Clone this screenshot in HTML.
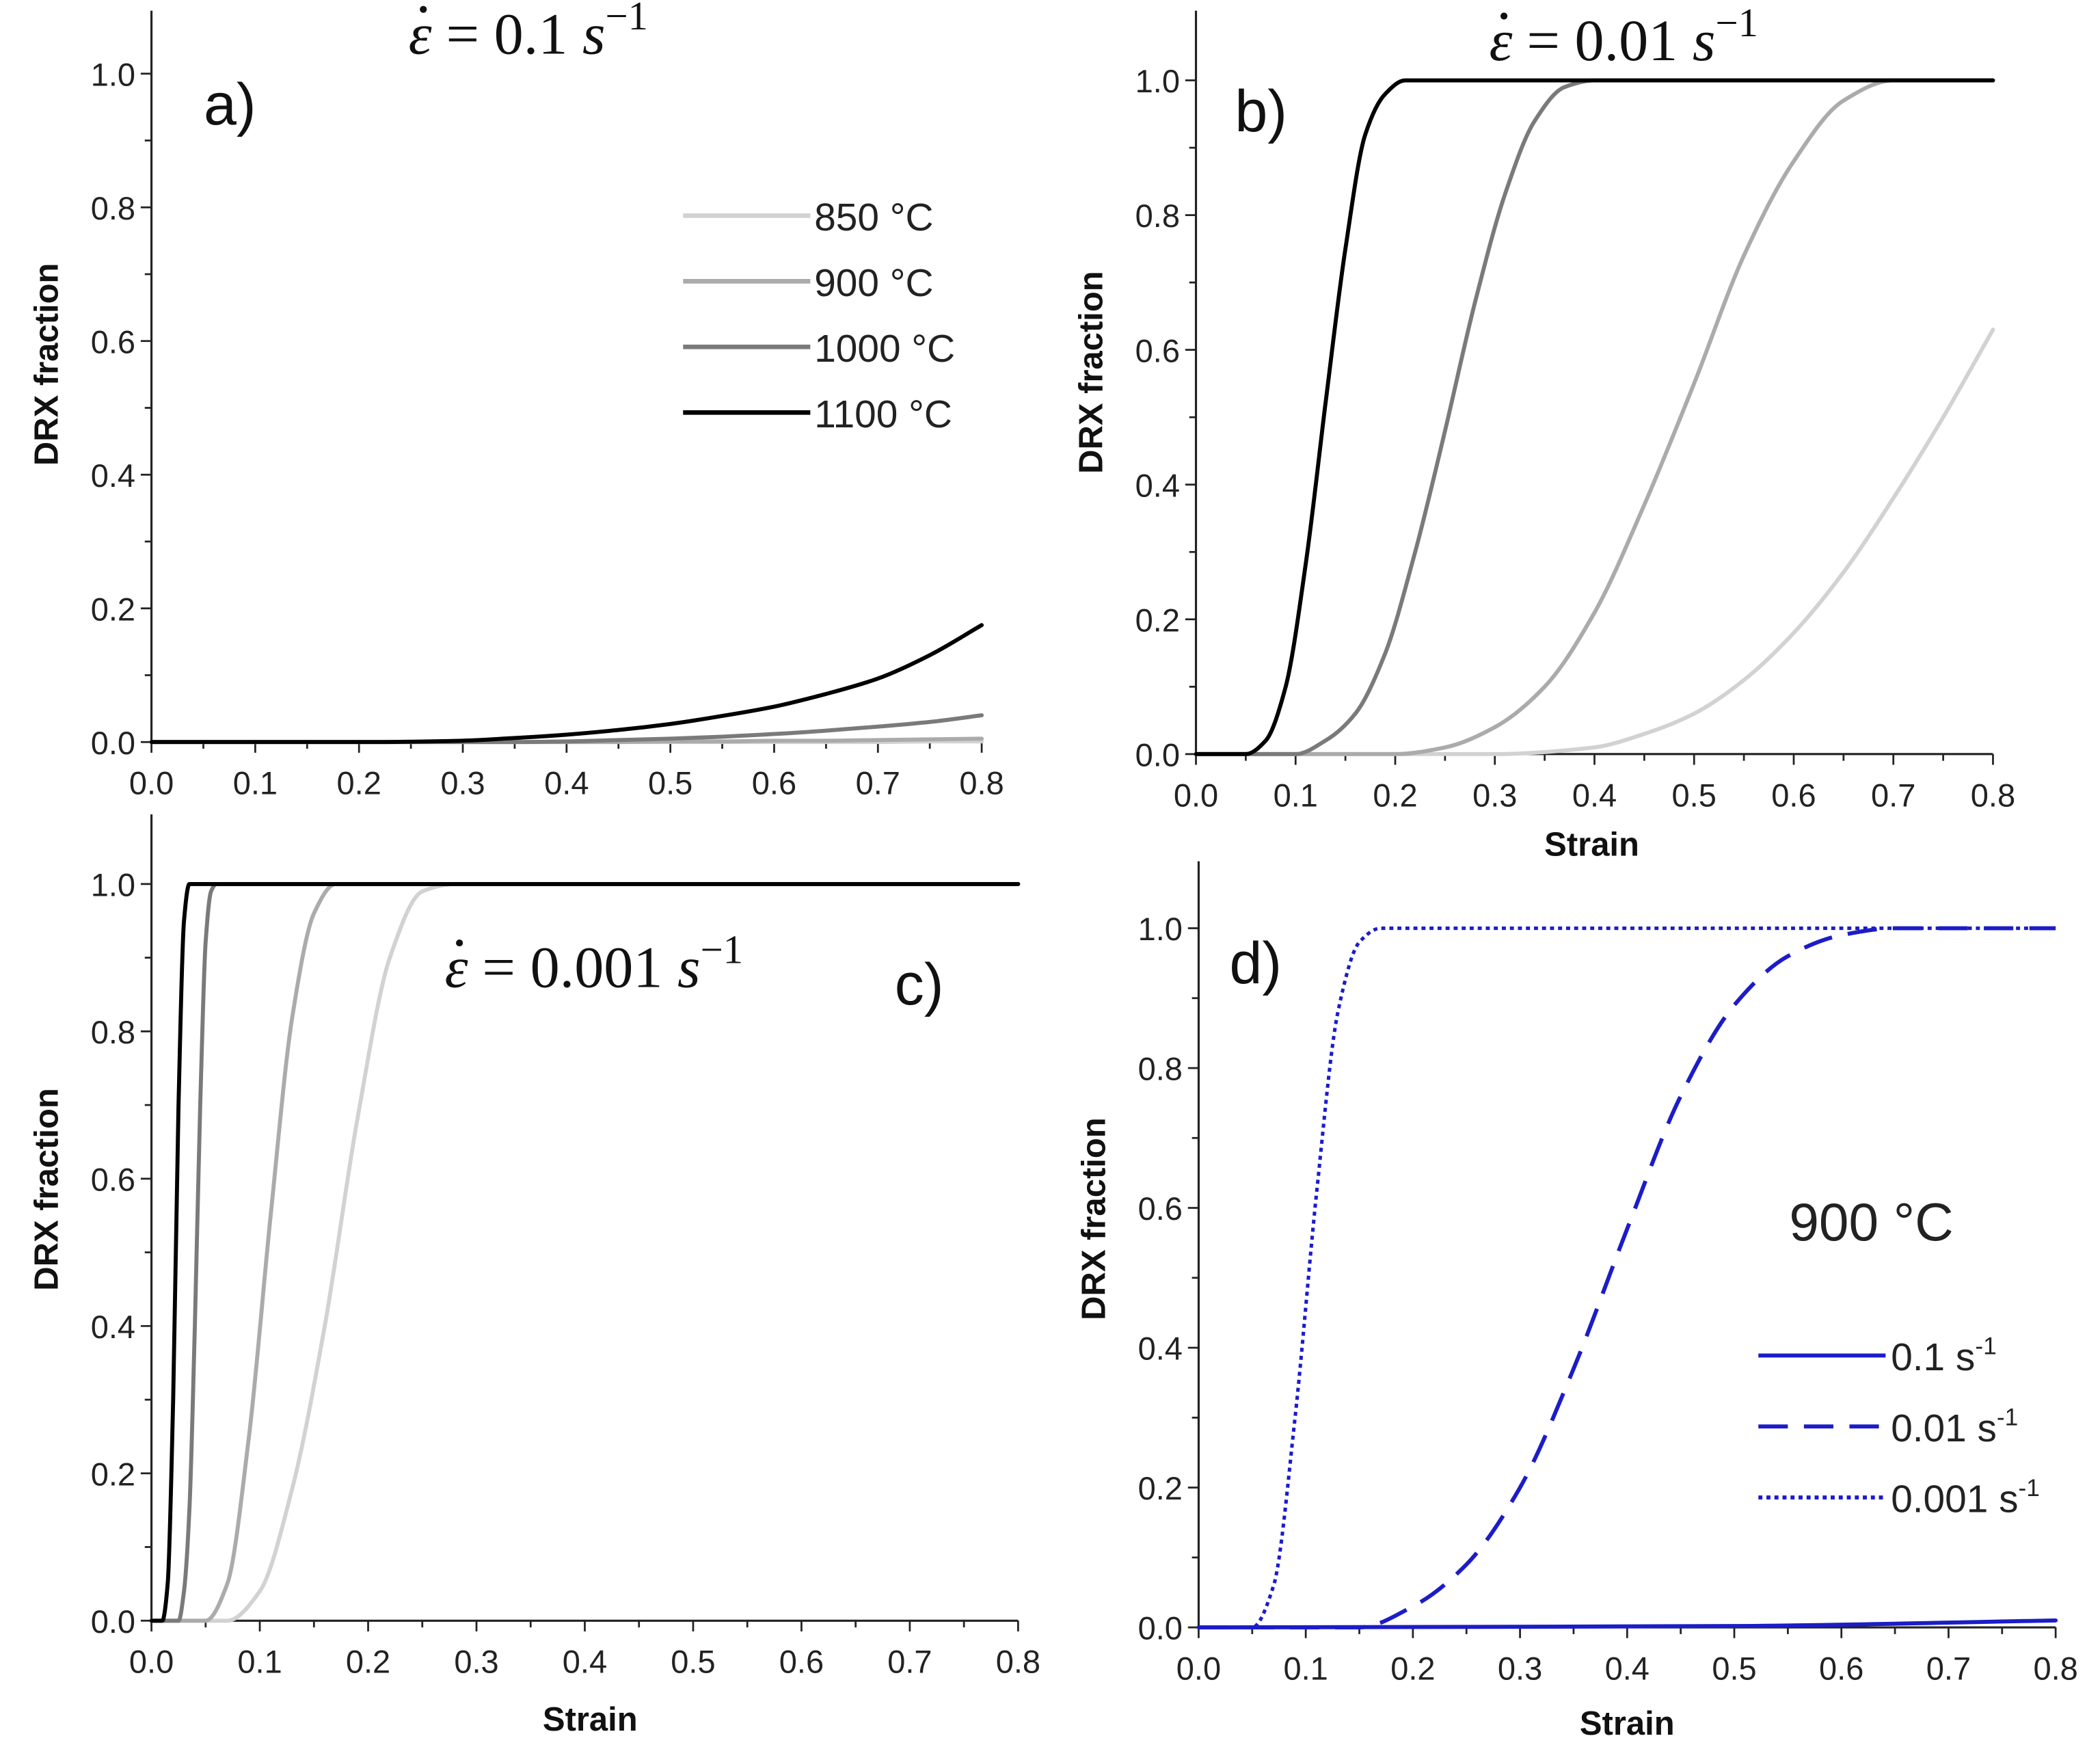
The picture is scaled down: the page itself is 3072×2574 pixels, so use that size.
<!DOCTYPE html>
<html><head><meta charset="utf-8"><style>
html,body{margin:0;padding:0;background:#fff}
svg{display:block}
text{font-family:"Liberation Sans",sans-serif;fill:#222}
.tk{font-size:24px}
.al{font-size:25px;font-weight:bold;fill:#111}
.ttl{font-family:"Liberation Serif",serif;font-size:44px;fill:#111}
.pl{font-size:44px;fill:#111}
.lg{font-size:29px;fill:#222}
</style></head><body>
<svg id="fig" width="3072" height="2574" viewBox="0 0 1568 1314" xmlns="http://www.w3.org/2000/svg"></svg>
<script>
// ---- data ----
const yTicks=["0.0","0.2","0.4","0.6","0.8","1.0"];
const yTickVals=[0,0.2,0.4,0.6,0.8,1.0];
const xTicks=["0.0","0.1","0.2","0.3","0.4","0.5","0.6","0.7","0.8"];
const xTickVals=[0,0.1,0.2,0.3,0.4,0.5,0.6,0.7,0.8];
const tempLabels=["850 °C","900 °C","1000 °C","1100 °C"];
// panel a (0.1 s^-1)
const aX=[0,0.1,0.2,0.3,0.35,0.4,0.45,0.5,0.55,0.6,0.65,0.7,0.75,0.8];
const a850=[0,0,0,0,0,0,0,0,0,0,0,0,0.001,0.001];
const a900=[0,0,0,0,0,0,0,0.001,0.001,0.002,0.002,0.003,0.004,0.005];
const a1000=[0,0,0,0,0,0.001,0.003,0.005,0.008,0.012,0.017,0.023,0.03,0.04];
const a1100=[0,0,0,0.002,0.006,0.011,0.018,0.027,0.039,0.053,0.072,0.095,0.13,0.175];
// panel b (0.01 s^-1)
const b850X=[0,0.3,0.4,0.45,0.5,0.55,0.6,0.65,0.7,0.75,0.8];
const b850Y=[0,0,0.01,0.03,0.06,0.11,0.18,0.27,0.38,0.5,0.63];
const b900X=[0,0.2,0.25,0.3,0.35,0.4,0.45,0.5,0.55,0.6,0.65,0.7,0.8];
const b900Y=[0,0,0.01,0.04,0.1,0.21,0.37,0.55,0.74,0.88,0.97,1,1];
const b1000X=[0,0.1,0.13,0.16,0.19,0.22,0.25,0.28,0.31,0.34,0.37,0.4,0.8];
const b1000Y=[0,0,0.02,0.06,0.15,0.3,0.48,0.67,0.83,0.94,0.99,1,1];
const b1100X=[0,0.05,0.07,0.09,0.11,0.13,0.15,0.17,0.19,0.21,0.23,0.8];
const b1100Y=[0,0,0.02,0.1,0.28,0.52,0.75,0.92,0.98,1,1,1];
// panel c (0.001 s^-1)
const c850X=[0,0.07,0.1,0.13,0.16,0.19,0.22,0.25,0.28,0.8];
const c850Y=[0,0,0.04,0.18,0.4,0.68,0.9,0.99,1,1];
const c900X=[0,0.05,0.07,0.09,0.11,0.13,0.15,0.17,0.19,0.8];
const c900Y=[0,0,0.05,0.25,0.55,0.82,0.96,1,1,1];
const c1000X=[0,0.025,0.03,0.035,0.04,0.045,0.05,0.055,0.06,0.8];
const c1000Y=[0,0,0.04,0.15,0.4,0.7,0.92,0.99,1,1];
const c1100X=[0,0.01,0.015,0.02,0.025,0.03,0.035,0.04,0.8];
const c1100Y=[0,0,0.05,0.3,0.7,0.95,1,1,1];
// panel d (900 °C)
const rateLabels=["0.1","0.01","0.001"];
const d01X=[0,0.5,0.8];
const d01Y=[0,0.002,0.01];
const d001X=[0,0.15,0.2,0.25,0.3,0.35,0.4,0.45,0.5,0.55,0.6,0.65,0.8];
const d001Y=[0,0,0.03,0.09,0.2,0.37,0.57,0.76,0.89,0.96,0.99,1,1];
const d0001X=[0,0.05,0.07,0.09,0.11,0.13,0.15,0.17,0.19,0.8];
const d0001Y=[0,0,0.06,0.3,0.62,0.88,0.98,1,1,1];

const NS="http://www.w3.org/2000/svg";
const svg=document.getElementById('fig');
function el(tag,attrs,parent,txt){const e=document.createElementNS(NS,tag);for(const k in attrs)e.setAttribute(k,attrs[k]);if(txt!==undefined)e.textContent=txt;(parent||svg).appendChild(e);return e;}

// monotone cubic (Fritsch-Carlson) path in screen coords (x increasing)
function monoPath(pts){
  const n=pts.length;
  const dx=[],m=[];
  for(let i=0;i<n-1;i++){dx.push(pts[i+1][0]-pts[i][0]);m.push((pts[i+1][1]-pts[i][1])/dx[i]);}
  const t=new Array(n);
  t[0]=m[0];t[n-1]=m[n-2];
  for(let i=1;i<n-1;i++){
    if(m[i-1]*m[i]<=0)t[i]=0;
    else{const w1=2*dx[i]+dx[i-1],w2=dx[i]+2*dx[i-1];t[i]=(w1+w2)/(w1/m[i-1]+w2/m[i]);}
  }
  if(m[0]===0)t[0]=0; if(m[n-2]===0)t[n-1]=0;
  let d='M'+pts[0][0].toFixed(1)+','+pts[0][1].toFixed(1);
  for(let i=0;i<n-1;i++){
    const h=dx[i]/3;
    d+=' C'+(pts[i][0]+h).toFixed(1)+','+(pts[i][1]+t[i]*h).toFixed(1)+' '+(pts[i+1][0]-h).toFixed(1)+','+(pts[i+1][1]-t[i+1]*h).toFixed(1)+' '+pts[i+1][0].toFixed(1)+','+pts[i+1][1].toFixed(1);
  }
  return d;
}

function panel(id,P){
  const g=el('g',{});
  
  
  const sx=v=>P.x0+v*P.xs, sy=v=>P.y0-v*P.ys;
  const ya=el('line',{x1:P.x0,y1:P.top,x2:P.x0,y2:P.y0,stroke:'#222','stroke-width':1.6},g);
  
  const xa=el('line',{x1:P.x0,y1:P.y0,x2:sx(0.8),y2:P.y0,stroke:'#222','stroke-width':1.6},g);
  
  for(let i=0;i<=10;i++){const v=i*0.1;const L=i%2==0?8:5;el('line',{x1:P.x0-L,y1:sy(v),x2:P.x0,y2:sy(v),stroke:'#222','stroke-width':1.4},g);}
  for(let i=0;i<=16;i++){const v=i*0.05;const L=i%2==0?8:5;el('line',{x1:sx(v),y1:P.y0,x2:sx(v),y2:P.y0+L,stroke:'#222','stroke-width':1.4},g);}
  yTickVals.forEach((v,i)=>{const t=el('text',{class:'tk',x:P.x0-12,y:sy(v)+9,'text-anchor':'end'},g,yTicks[i]);});
  xTickVals.forEach((v,i)=>{const t=el('text',{class:'tk',x:sx(v),y:P.y0+39,'text-anchor':'middle'},g,xTicks[i]);});
  const yt=el('text',{class:'al',transform:`translate(${P.x0-70},${P.ylab}) rotate(-90)`,'text-anchor':'middle'},g,'DRX fraction');
  
  if(P.strain){const xt=el('text',{class:'al',x:sx(0.4)+P.sOff,y:P.y0+P.sDy,'text-anchor':'middle'},g,'Strain');}
  P.series.forEach(s=>{
    const pts=s.x.map((xv,i)=>[sx(xv),sy(s.y[i])]);
    const p=el('path',{d:monoPath(pts),fill:'none',stroke:s.c,'stroke-width':s.w||3,'stroke-linejoin':'round','stroke-linecap':s.dash?'butt':'round'},g);
    if(s.dash)p.setAttribute('stroke-dasharray',s.dash);
    
  });
  return g;
}
const gc=['#d2d2d2','#ababab','#7a7a7a','#000'];
panel('a',{x0:113,y0:554,ys:499,xs:775,top:8,ylab:272,strain:false,series:[
  {x:aX,y:a850,c:gc[0],n:'850c'},{x:aX,y:a900,c:gc[1],n:'900c'},{x:aX,y:a1000,c:gc[2],n:'1000c'},{x:aX,y:a1100,c:gc[3],n:'1100c'}]});
panel('b',{x0:893,y0:563,ys:503,xs:744,top:8,ylab:278,strain:true,sOff:-2,sDy:76,series:[
  {x:b850X,y:b850Y,c:gc[0],n:'850c'},{x:b900X,y:b900Y,c:gc[1],n:'900c'},{x:b1000X,y:b1000Y,c:gc[2],n:'1000c'},{x:b1100X,y:b1100Y,c:gc[3],n:'1100c'}]});
panel('c',{x0:113,y0:1210,ys:550,xs:809,top:608,ylab:888,strain:true,sOff:4,sDy:82,series:[
  {x:c850X,y:c850Y,c:gc[0],n:'850c'},{x:c900X,y:c900Y,c:gc[1],n:'900c'},{x:c1000X,y:c1000Y,c:gc[2],n:'1000c'},{x:c1100X,y:c1100Y,c:gc[3],n:'1100c'}]});
const blue='#1c1cc8';
panel('d',{x0:895,y0:1215,ys:522,xs:800,top:643,ylab:910,strain:true,sOff:0,sDy:80,series:[
  {x:d01X,y:d01Y,c:blue,n:'rate-0.1'},{x:d001X,y:d001Y,c:blue,n:'rate-0.01',dash:'22 12'},{x:d0001X,y:d0001Y,c:blue,n:'rate-0.001',dash:'3 3',w:2.6}]});

// titles & panel letters
function title(x,y,val,name){
  const g=el('g',{});
  
  el('text',{class:'ttl',x:x,y:y,'font-style':'italic'},g,'ε');
  el('circle',{cx:x+11,cy:y-33,r:2.6,fill:'#111'},g);
  const t=el('text',{class:'ttl',x:x+28,y:y},g,'= '+val+' ');
  el('tspan',{'font-style':'italic'},t,'s');
  el('tspan',{dy:-18,'font-size':'30px'},t,'−1');
}
title(305,40,'0.1','title-a');
title(1112,45,'0.01','title-b');
title(332,737,'0.001','title-c');
[['a)',152,93],['b)',922,98],['c)',668,750],['d)',918,734]].forEach(p=>{const t=el('text',{class:'pl',x:p[1],y:p[2]},svg,p[0]);});

// legend a
const lgA=el('g',{});

tempLabels.forEach((lb,i)=>{const y=161+i*49;
  const ln=el('line',{x1:510,y1:y,x2:605,y2:y,stroke:gc[i],'stroke-width':3.4},lgA);
  
  const t=el('text',{class:'lg',x:608,y:y+11},lgA,lb);
  });
// panel d annotation and legend
const ann=el('text',{x:1336,y:926,'font-size':'40px',fill:'#111'},svg,'900 °C');

const lgD=el('g',{});

const dashes=[null,'22 12','3 3'];
rateLabels.forEach((lb,i)=>{const y=1012+i*53;
  const ln=el('line',{x1:1313,y1:y,x2:1408,y2:y,stroke:blue,'stroke-width':3},lgD);
  if(dashes[i])ln.setAttribute('stroke-dasharray',dashes[i]);
  
  const t=el('text',{class:'lg',x:1412,y:y+11},lgD,lb+' s');
  el('tspan',{dy:-12,'font-size':'18px'},t,'-1');
  });
</script>
</body></html>
